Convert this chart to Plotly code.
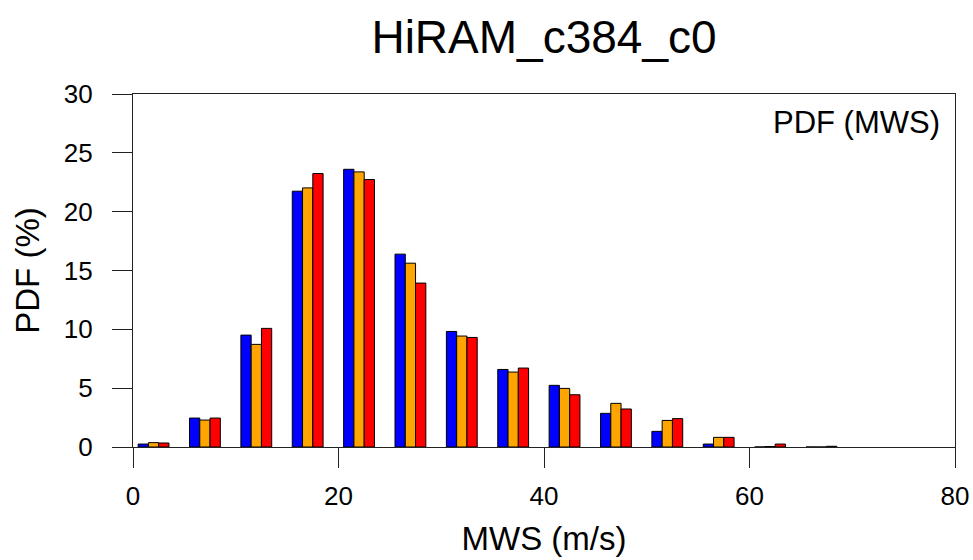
import plotly.graph_objects as go

bins = [0, 5, 10, 15, 20, 25, 30, 35, 40, 45, 50, 55, 60, 65]
blue_vals = [0.25, 2.46, 9.51, 21.74, 23.6, 16.39, 9.82, 6.59, 5.24, 2.86, 1.33, 0.25, 0.0, 0.0]
orange_vals = [0.37, 2.29, 8.72, 22.02, 23.38, 15.62, 9.43, 6.37, 4.98, 3.71, 2.26, 0.82, 0.04, 0.0]
red_vals = [0.34, 2.46, 10.08, 23.24, 22.73, 13.93, 9.31, 6.71, 4.44, 3.23, 2.41, 0.82, 0.25, 0.06]

x_ticks = [0, 20, 40, 60, 80]
y_ticks = [0, 5, 10, 15, 20, 25, 30]

FONT = "Liberation Sans, Arial, Helvetica, sans-serif"

fig = go.Figure()
series = [("blue", blue_vals, "#0000FF", -1.5),
          ("orange", orange_vals, "#FFA500", -0.5),
          ("red", red_vals, "#FF0000", 0.5)]
for name, vals, col, off in series:
    fig.add_trace(go.Bar(
        x=[b + 2 for b in bins], y=vals, name=name,
        width=1, offset=off,
        marker=dict(color=col, line=dict(color="black", width=1)),
        showlegend=False,
    ))

fig.update_layout(
    width=973, height=560,
    margin=dict(l=133, r=18, t=94, b=113, autoexpand=False),
    paper_bgcolor="white", plot_bgcolor="white",
    barmode="overlay",
    font=dict(family=FONT, color="black"),
    title=dict(text="HiRAM_c384_c0", x=0.5, xref="paper", y=1 - 37 / 560,
               yref="container", yanchor="middle", xanchor="center",
               font=dict(size=46, family=FONT, color="black")),
    xaxis=dict(range=[0, 80], tickvals=x_ticks, ticks="outside", ticklen=20,
               tickwidth=1.2, tickcolor="#222", showline=True, linecolor="#222",
               linewidth=1.2, mirror=True, showgrid=False, zeroline=False,
               automargin=False,
               tickfont=dict(size=26), ticklabelstandoff=6,
               title=dict(text="MWS (m/s)", font=dict(size=33), standoff=16)),
    yaxis=dict(range=[0, 30], tickvals=y_ticks, ticks="outside", ticklen=20,
               tickwidth=1.2, tickcolor="#222", showline=True, linecolor="#222",
               linewidth=1.2, mirror=True, showgrid=False, zeroline=False,
               automargin=False,
               tickfont=dict(size=26), ticklabelstandoff=14,
               title=dict(text="PDF (%)", font=dict(size=33), standoff=14)),
    annotations=[dict(text="PDF (MWS)", xref="paper", yref="paper", x=1, y=1,
                      xanchor="right", yanchor="top", xshift=-13, yshift=-9,
                      showarrow=False, font=dict(size=31, family=FONT, color="black"))],
)

fig.write_html("out.html")
